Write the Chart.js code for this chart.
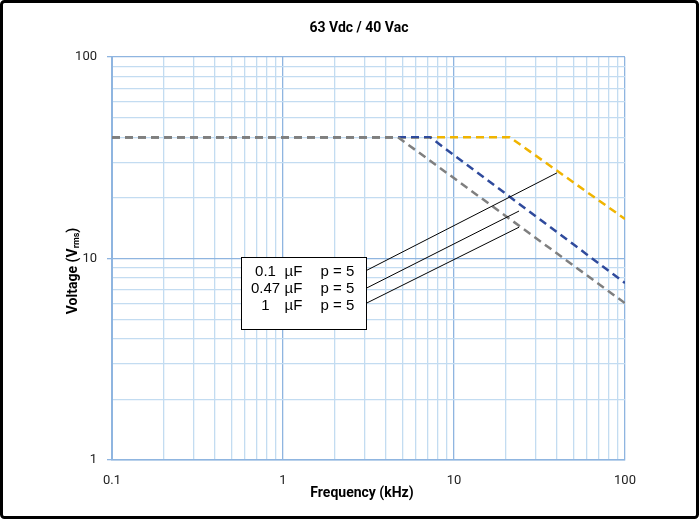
<!DOCTYPE html>
<html>
<head>
<meta charset="utf-8">
<script src="https://cdn.jsdelivr.net/npm/chart.js@4.4.0/dist/chart.umd.min.js"></script>
<style>
html,body{margin:0;padding:0;background:#fff;}
#wrap{width:699px;height:519px;position:relative;}
</style>
</head>
<body>
<div id="wrap"><canvas id="c"></canvas></div>
<script>
// ---- data ----
const seriesNames = ['0.1 µF', '0.47 µF', '1 µF'];
const capLabels = ['0.1', '0.47', '1'];
const pitchLabel = 'p = 5';
const freq01 = [0.1, 21.2, 100];
const volt01 = [40, 40, 15.7];
const freq047 = [0.1, 7.24, 100];
const volt047 = [40, 40, 7.56];
const freq1 = [0.1, 4.7, 100];
const volt1 = [40, 40, 6.0];
const leaderFreq01 = [2.93, 40.0];
const leaderVolt01 = [8.54, 26.6];
const leaderFreq047 = [2.93, 24.0];
const leaderVolt047 = [6.98, 17.2];
const leaderFreq1 = [2.93, 24.0];
const leaderVolt1 = [5.88, 14.3];
const boxFreq = [0.567, 3.06];
const boxVolt = [10.17, 4.47];
const xTickLabels = ['0.1', '1', '10', '100'];
const yTickLabels = ['1', '10', '100'];
const chartTitle = '63 Vdc / 40 Vac';
const xTitle = 'Frequency (kHz)';
const yTitleMain = 'Voltage (V';
const yTitleSub = 'rms';
const yTitleEnd = ')';

function pts(xs, ys) { return xs.map((x, i) => ({x: x, y: ys[i]})); }

function logTicks(min, max) {
  const out = [];
  for (let e = Math.round(Math.log10(min)); e < Math.round(Math.log10(max)); e++) {
    for (let k = 1; k <= 9; k++) out.push({value: k * Math.pow(10, e)});
  }
  out.push({value: max});
  return out;
}
function isMajor(v) {
  const l = Math.log10(v);
  return Math.abs(l - Math.round(l)) < 1e-6;
}
function labelFor(v, labels) {
  for (const s of labels) if (Math.abs(parseFloat(s) - v) < 1e-9 * Math.max(1, v)) return s;
  return '';
}

const minorGrid = '#c3dcf1';
const majorGrid = '#8fb5e0';

const decor = {
  id: 'decor',
  beforeDraw(chart) {
    const ctx = chart.ctx;
    ctx.save();
    ctx.fillStyle = '#fff';
    ctx.fillRect(0, 0, chart.width, chart.height);
    ctx.restore();
  },
  afterDraw(chart) {
    const ctx = chart.ctx;
    const xs = chart.scales.x, ys = chart.scales.y;
    ctx.save();
    // title
    ctx.fillStyle = '#000';
    ctx.font = 'bold 14px Roboto';
    ctx.textAlign = 'center';
    ctx.textBaseline = 'middle';
    ctx.fillText(chartTitle, 359, 28);
    // x title
    ctx.fillText(xTitle, 362, 493);
    // y title with subscript
    ctx.save();
    ctx.translate(73, 271);
    ctx.rotate(-Math.PI / 2);
    ctx.font = 'bold 14px Roboto';
    const w1 = ctx.measureText(yTitleMain).width;
    const w3 = ctx.measureText(yTitleEnd).width;
    ctx.font = 'bold 9px Roboto';
    const w2 = ctx.measureText(yTitleSub).width;
    let x0 = -(w1 + w2 + w3) / 2;
    ctx.textAlign = 'left';
    ctx.font = 'bold 14px Roboto';
    ctx.fillText(yTitleMain, x0, 0);
    ctx.font = 'bold 9px Roboto';
    ctx.fillText(yTitleSub, x0 + w1, 4);
    ctx.font = 'bold 14px Roboto';
    ctx.fillText(yTitleEnd, x0 + w1 + w2, 0);
    ctx.restore();
    // legend box
    const bl = Math.round(xs.getPixelForValue(boxFreq[0])) + 0.5;
    const br = Math.round(xs.getPixelForValue(boxFreq[1])) + 0.5;
    const bt = Math.round(ys.getPixelForValue(boxVolt[0])) + 0.5;
    const bb = Math.round(ys.getPixelForValue(boxVolt[1])) + 0.5;
    ctx.fillStyle = '#fff';
    ctx.fillRect(bl, bt, br - bl, bb - bt);
    ctx.strokeStyle = '#000';
    ctx.lineWidth = 1;
    ctx.strokeRect(bl, bt, br - bl, bb - bt);
    ctx.fillStyle = '#000';
    ctx.font = '15px "Liberation Sans", Arial, sans-serif';
    ctx.textBaseline = 'middle';
    const rows = [14, 31, 48];
    capLabels.forEach((c, i) => {
      const y = bt + rows[i];
      ctx.textAlign = 'center';
      ctx.fillText(c, bl + 24, y);
      ctx.textAlign = 'left';
      ctx.fillText('µF', bl + 43, y);
      ctx.fillText(pitchLabel, bl + 79, y);
    });
    // frame
    ctx.strokeStyle = '#000';
    ctx.lineWidth = 3;
    ctx.beginPath();
    if (ctx.roundRect) ctx.roundRect(1.5, 1.5, chart.width - 3, chart.height - 3, 3);
    else ctx.rect(1.5, 1.5, chart.width - 3, chart.height - 3);
    ctx.stroke();
    ctx.restore();
  }
};

const dashW = 2.5, dashPat = [8, 5];
new Chart(document.getElementById('c'), {
  type: 'scatter',
  data: {
    datasets: [
      {label: seriesNames[0], data: pts(freq01, volt01), showLine: true, borderColor: '#f0b400', borderWidth: dashW, borderDash: dashPat, pointRadius: 0, order: 3},
      {label: seriesNames[1], data: pts(freq047, volt047), showLine: true, borderColor: '#2f4a9c', borderWidth: dashW, borderDash: dashPat, pointRadius: 0, order: 2},
      {label: seriesNames[2], data: pts(freq1, volt1), showLine: true, borderColor: '#7f7f7f', borderWidth: dashW, borderDash: dashPat, pointRadius: 0, order: 1},
      {label: 'l1', data: pts(leaderFreq01, leaderVolt01), showLine: true, borderColor: '#000', borderWidth: 1, pointRadius: 0, order: 0},
      {label: 'l2', data: pts(leaderFreq047, leaderVolt047), showLine: true, borderColor: '#000', borderWidth: 1, pointRadius: 0, order: 0},
      {label: 'l3', data: pts(leaderFreq1, leaderVolt1), showLine: true, borderColor: '#000', borderWidth: 1, pointRadius: 0, order: 0}
    ]
  },
  options: {
    responsive: true,
    maintainAspectRatio: false,
    devicePixelRatio: 1,
    animation: false,
    events: [],
    layout: {padding: {top: 57, right: 74, bottom: 0, left: 0}},
    plugins: {legend: {display: false}, tooltip: {enabled: false}, title: {display: false}},
    scales: {
      x: {
        type: 'logarithmic',
        min: 0.1, max: 100,
        afterBuildTicks(s) { s.ticks = logTicks(0.1, 100); },
        afterFit(s) { s.height = 59; },
        ticks: {
          autoSkip: false, maxRotation: 0, padding: 13,
          color: '#222', font: {family: 'Roboto', size: 13},
          callback: (v) => labelFor(v, xTickLabels)
        },
        grid: {
          drawTicks: false,
          lineWidth: (c) => isMajor(c.tick.value) ? 1.3 : 1.3,
          color: (c) => isMajor(c.tick.value) ? majorGrid : minorGrid
        },
        border: {color: majorGrid, width: 1.5}
      },
      y: {
        type: 'logarithmic',
        min: 1, max: 100,
        afterBuildTicks(s) { s.ticks = logTicks(1, 100); },
        afterFit(s) { s.width = 112; },
        ticks: {
          autoSkip: false, padding: 10,
          color: '#222', font: {family: 'Roboto', size: 13},
          callback: (v) => labelFor(v, yTickLabels)
        },
        grid: {
          drawTicks: true, tickLength: 5,
          lineWidth: 1.3,
          color: (c) => isMajor(c.tick.value) ? majorGrid : minorGrid,
          tickColor: (c) => isMajor(c.tick.value) ? majorGrid : 'rgba(0,0,0,0)'
        },
        border: {color: majorGrid, width: 2}
      }
    }
  },
  plugins: [decor]
});
</script>
</body>
</html>
